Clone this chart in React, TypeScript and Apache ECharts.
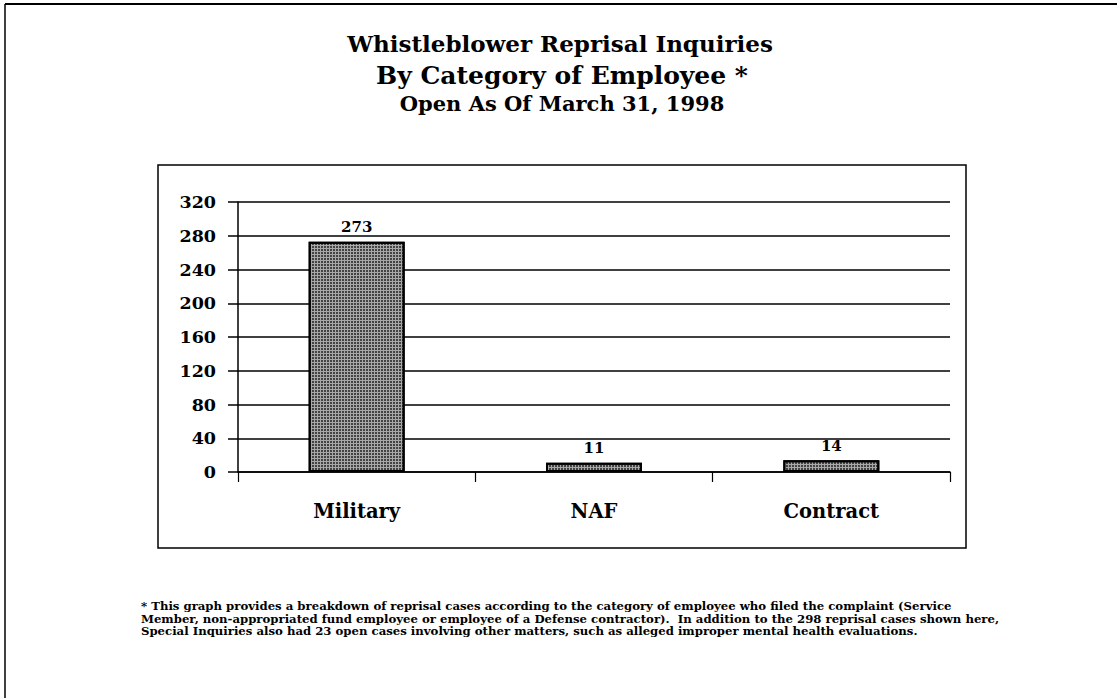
import React, { useEffect, useRef } from "react";
import * as echarts from "echarts";

const categories = ["Military", "NAF", "Contract"];
const values = [273, 11, 14];
const yMin = 0;
const yMax = 320;
const yInterval = 40;

const titleLines = [
  "Whistleblower Reprisal Inquiries",
  "By Category of Employee *",
  "Open As Of March 31, 1998",
];
const footnoteLines = [
  "* This graph provides a breakdown of reprisal cases according to the category of employee who filed the complaint (Service",
  "Member, non-appropriated fund employee or employee of a Defense contractor).  In addition to the 298 reprisal cases shown here,",
  "Special Inquiries also had 23 open cases involving other matters, such as alleged improper mental health evaluations.",
];

const FONT = "'DejaVu Serif', 'Liberation Serif', serif";

export default function App() {
  const ref = useRef<HTMLDivElement>(null);
  useEffect(() => {
    if (!ref.current) return;
    const chart = echarts.init(ref.current, undefined, { renderer: "svg" });
    chart.setOption({
      animation: false,
      backgroundColor: "#ffffff",
      grid: { left: 238, right: 170, top: 202, bottom: 226, containLabel: false },
      xAxis: {
        type: "category",
        data: categories,
        axisLine: { lineStyle: { color: "#000", width: 1.5 } },
        axisTick: { show: true, length: 10, lineStyle: { color: "#000", width: 1.2 } },
        axisLabel: {
          color: "#000",
          fontFamily: FONT,
          fontWeight: "bold",
          fontSize: 19.5,
          margin: 29,
        },
      },
      yAxis: {
        type: "value",
        min: yMin,
        max: yMax,
        interval: yInterval,
        axisLine: { show: true, lineStyle: { color: "#000", width: 1.5 } },
        axisTick: { show: true, length: 10, lineStyle: { color: "#000", width: 1.5 } },
        splitLine: { show: true, lineStyle: { color: "#000", width: 1.5 } },
        axisLabel: {
          color: "#000",
          fontFamily: FONT,
          fontWeight: "bold",
          fontSize: 17.5,
          margin: 22,
        },
      },
      series: [
        {
          type: "bar",
          data: values,
          barWidth: 96,
          itemStyle: {
            color: "#a8a8a8",
            borderColor: "#000",
            borderWidth: 2,
            decal: {
              symbol: "rect",
              symbolSize: 1,
              dashArrayX: [2, 1],
              dashArrayY: [2, 1],
              color: "rgba(0,0,0,0.6)",
            },
          },
          label: {
            show: true,
            position: "top",
            distance: 7,
            color: "#000",
            fontFamily: FONT,
            fontWeight: "bold",
            fontSize: 15,
          },
        },
      ],
      graphic: [
        {
          type: "line",
          shape: { x1: 5, y1: 4, x2: 1117, y2: 4 },
          style: { stroke: "#000", lineWidth: 2 },
        },
        {
          type: "line",
          shape: { x1: 5, y1: 4, x2: 5, y2: 698 },
          style: { stroke: "#000", lineWidth: 1.5 },
        },
        {
          type: "rect",
          shape: { x: 158, y: 165, width: 808, height: 383 },
          style: { fill: "none", stroke: "#000", lineWidth: 1.5 },
          z: -1,
        },
        {
          type: "text",
          x: 560,
          y: 43,
          style: {
            text: titleLines[0],
            fill: "#000",
            font: `bold 23px ${FONT}`,
            textAlign: "center",
            textVerticalAlign: "middle",
          },
        },
        {
          type: "text",
          x: 562,
          y: 75,
          style: {
            text: titleLines[1],
            fill: "#000",
            font: `bold 25px ${FONT}`,
            textAlign: "center",
            textVerticalAlign: "middle",
          },
        },
        {
          type: "text",
          x: 562,
          y: 103,
          style: {
            text: titleLines[2],
            fill: "#000",
            font: `bold 21px ${FONT}`,
            textAlign: "center",
            textVerticalAlign: "middle",
          },
        },
        ...footnoteLines.map((t, i) => ({
          type: "text",
          x: 141,
          y: 606 + i * 12.6,
          style: {
            text: t,
            fill: "#000",
            font: `bold 11.7px ${FONT}`,
            textAlign: "left",
            textVerticalAlign: "middle",
          },
        })),
      ],
    });
    return () => chart.dispose();
  }, []);
  return (
    <div
      ref={ref}
      style={{ position: "fixed", left: 0, top: 0, width: 1120, height: 698 }}
    />
  );
}
